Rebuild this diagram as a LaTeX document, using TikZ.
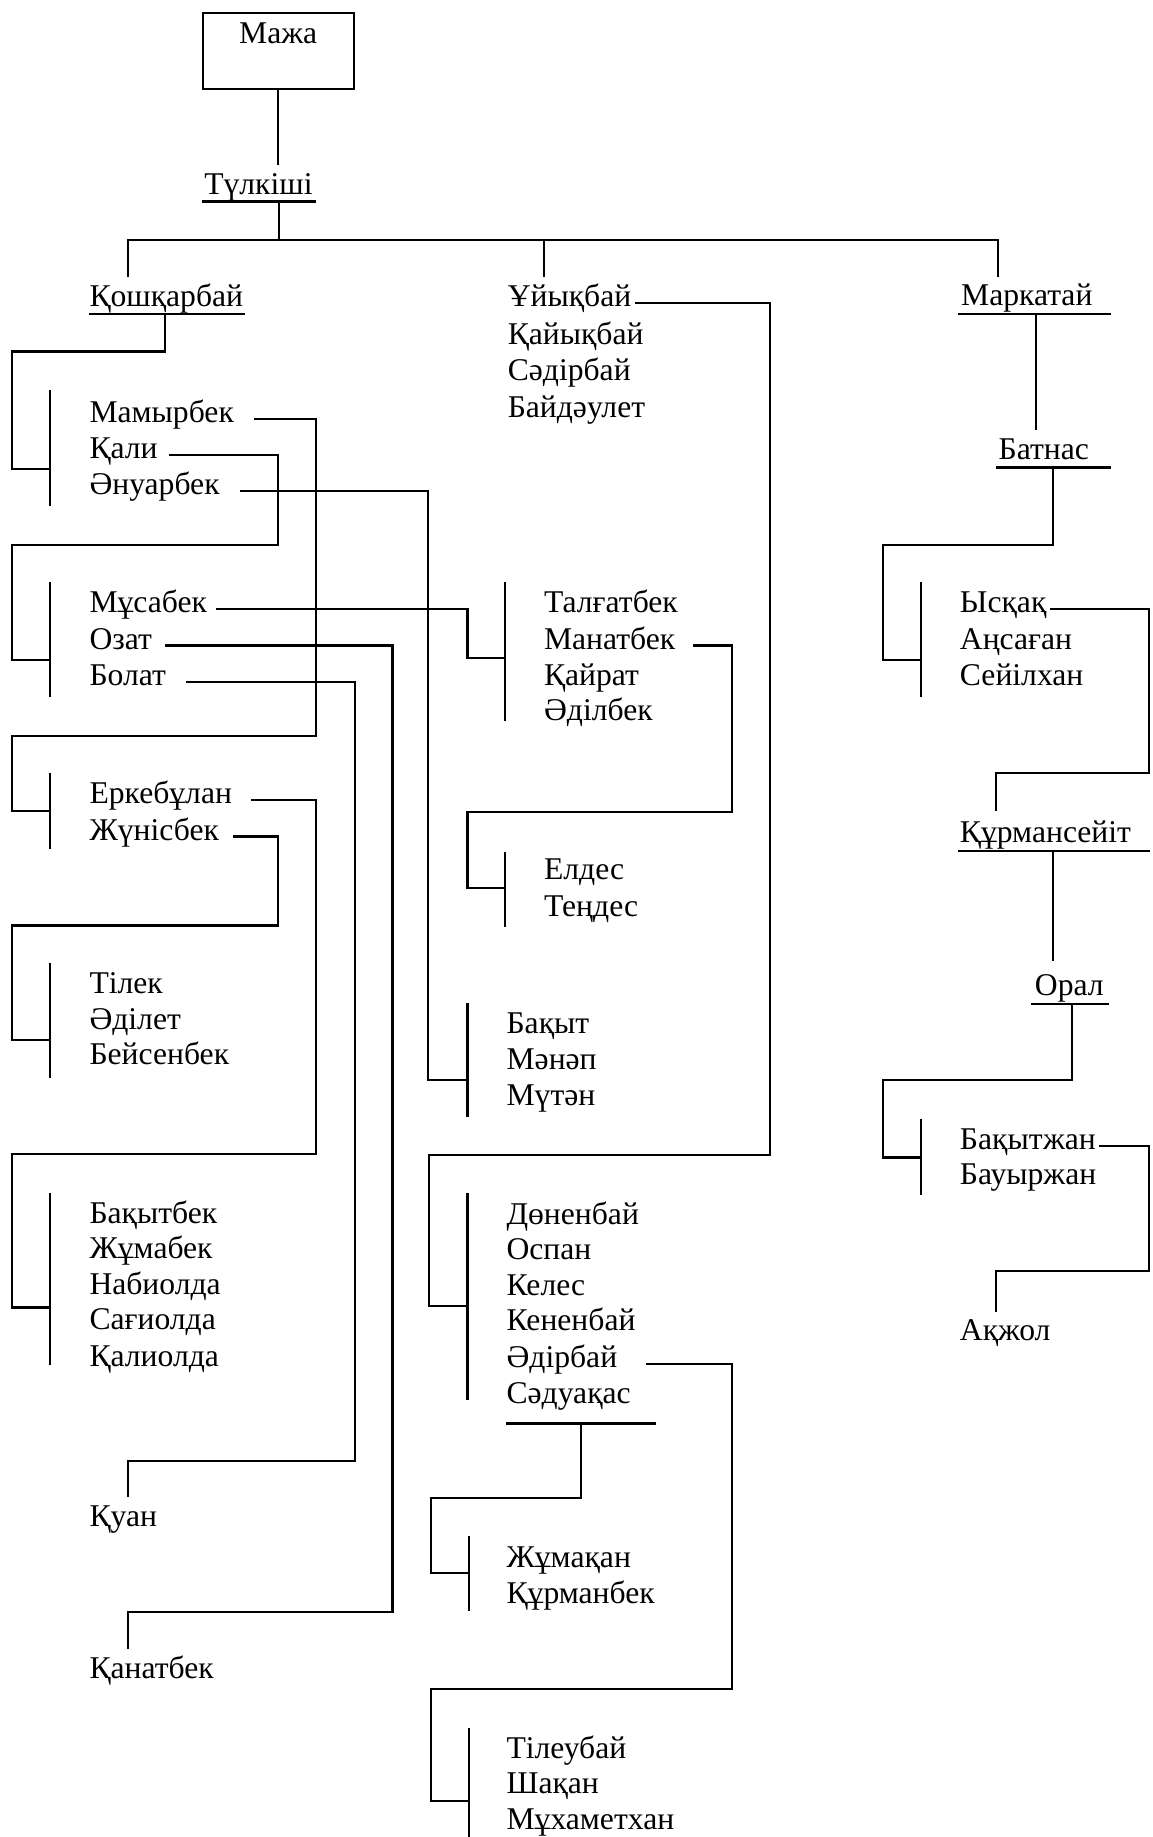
\documentclass[tikz,border=0pt]{standalone}
\usepackage{fontspec}
\setmainfont{Liberation Serif}
\usepackage{tikz}

\begin{document}
\begin{tikzpicture}[
  x=0.5pt, y=-0.5pt,
  kin/.style={anchor=base west, inner sep=0pt, font=\fontsize{13.5pt}{15pt}\selectfont},
  box/.style={draw, line width=1pt, minimum width=64.5pt, inner xsep=0pt, inner ysep=4pt, text height=9pt, text depth=15.5pt, font=\fontsize{13.5pt}{15pt}\selectfont},
  ln/.style={line width=0.9pt},
  ul/.style={line width=0.9pt}
]
  \useasboundingbox (0,0) rectangle (984,1568);

  \node[box, anchor=north] (maja) at (237.5,10) {Мажа};
  \node[kin] (tulk) at (174,166) {Түлкіші};

  \node[kin] (kosh) at (76,262) {Қошқарбай};
  \node[kin] (uiyk) at (433,262) {Ұйықбай};
  \node[kin] (kaiyk) at (433,294) {Қайықбай};
  \node[kin] (sadir) at (433,325) {Сәдірбай};
  \node[kin] (baid) at (433,356) {Байдәулет};
  \node[kin] (mark) at (820,261) {Маркатай};
  \node[kin] (batnas) at (852,392) {Батнас};

  \node[kin] (mamyr) at (76,361) {Мамырбек};
  \node[kin] (kali) at (76,391) {Қали};
  \node[kin] (anuar) at (76,422) {Әнуарбек};
  \node[kin] (musa) at (76,523) {Мұсабек};
  \node[kin] (ozat) at (76,554) {Озат};
  \node[kin] (bolat) at (76,585) {Болат};
  \node[kin] (erke) at (76,686) {Еркебұлан};
  \node[kin] (zhunis) at (76,717) {Жүнісбек};
  \node[kin] (tilek) at (76,848) {Тілек};
  \node[kin] (adilet) at (76,879) {Әділет};
  \node[kin] (beisen) at (76,909) {Бейсенбек};
  \node[kin] (bakbek) at (76,1044) {Бақытбек};
  \node[kin] (zhumabek) at (76,1074) {Жұмабек};
  \node[kin] (nabi) at (76,1105) {Набиолда};
  \node[kin] (sagi) at (76,1135) {Сағиолда};
  \node[kin] (kalio) at (76,1166) {Қалиолда};
  \node[kin] (kuan) at (76,1303) {Қуан};
  \node[kin] (kanat) at (76,1433) {Қанатбек};

  \node[kin] (talgat) at (464,523) {Талғатбек};
  \node[kin] (manat) at (464,554) {Манатбек};
  \node[kin] (kairat) at (464,585) {Қайрат};
  \node[kin] (adilbek) at (464,615) {Әділбек};
  \node[kin] (eldes) at (464,751) {Елдес};
  \node[kin] (tendes) at (464,782) {Теңдес};
  \node[kin] (bakyt) at (432,882) {Бақыт};
  \node[kin] (manap) at (432,913) {Мәнәп};
  \node[kin] (muten) at (432,944) {Мүтән};
  \node[kin] (donen) at (432,1045) {Дөненбай};
  \node[kin] (ospan) at (432,1075) {Оспан};
  \node[kin] (keles) at (432,1106) {Келес};
  \node[kin] (kenen) at (432,1136) {Кененбай};
  \node[kin] (adir) at (432,1167) {Әдірбай};
  \node[kin] (saduak) at (432,1198) {Сәдуақас};
  \node[kin] (zhumak) at (432,1338) {Жұмақан};
  \node[kin] (kurmbek) at (432,1369) {Құрманбек};
  \node[kin] (tileu) at (432,1501) {Тілеубай};
  \node[kin] (shakan) at (432,1531) {Шақан};
  \node[kin] (mukh) at (432,1562) {Мұхаметхан};

  \node[kin] (iskak) at (819,523) {Ысқақ};
  \node[kin] (ansagan) at (819,554) {Аңсаған};
  \node[kin] (seilkhan) at (819,585) {Сейілхан};
  \node[kin] (kurmseit) at (819,719) {Құрмансейіт};
  \node[kin] (oral) at (883,850) {Орал};
  \node[kin] (bakzh) at (819,981) {Бақытжан};
  \node[kin] (bauyr) at (819,1011) {Бауыржан};
  \node[kin] (akzhol) at (819,1144) {Ақжол};

  \coordinate (fork) at (238,205);
  \coordinate (j1) at (43,400);
  \coordinate (j2) at (43,563);
  \coordinate (j3) at (43,692);
  \coordinate (j4) at (43,888);
  \coordinate (j5) at (43,1116);
  \coordinate (j6) at (431,562);
  \coordinate (j7) at (431,758);
  \coordinate (j8) at (399,922);
  \coordinate (j9) at (399,1115);
  \coordinate (j10) at (400,1343);
  \coordinate (j11) at (400,1537);
  \coordinate (j12) at (786,563);
  \coordinate (j13) at (786,988);

  \draw[ln] (43,333) -- (43,432);
  \draw[ln] (43,497) -- (43,595);
  \draw[ln] (43,660) -- (43,725);
  \draw[ln] (43,822) -- (43,920);
  \draw[ln] (43,1018) -- (43,1165);
  \draw[ln] (431,497) -- (431,615);
  \draw[ln] (431,727) -- (431,791);
  \draw[ln] (399,856) -- (399,953);
  \draw[ln] (399,1018) -- (399,1195);
  \draw[ln] (400,1311) -- (400,1375);
  \draw[ln] (400,1475) -- (400,1568);
  \draw[ln] (786,497) -- (786,595);
  \draw[ln] (786,955) -- (786,1020);

  \draw[ln] (maja.south) -- ([yshift=3.5pt]maja.south |- tulk.north);
  \draw[ul] ([shift={(-1pt,-3pt)}]tulk.base west) coordinate (tulk-ul) -- ++(49pt,0pt);
  \draw[ln] ([xshift=33pt]tulk-ul) -- (fork);
  \draw[ln] ([shift={(16.5pt,3pt)}]kosh.north west) |- (fork) -| ([shift={(16pt,3pt)}]mark.north west);
  \draw[ln] ([shift={(15.5pt,3pt)}]uiyk.north west) coordinate (u-top) -- (u-top |- fork);

  \draw[ul] ([yshift=-3pt]kosh.base west) coordinate (kosh-ul) -- ++(66.5pt,0pt);
  \draw[ln] ([xshift=32.5pt]kosh-ul) |- (10,300) |- (j1);

  \draw[ln] ([shift={(8.5pt,1.5pt)}]mamyr.base east) -| (270,628) -- (10,628) |- (j3);
  \draw[ln] ([shift={(4.5pt,1.5pt)}]kali.base east) -| (237,465) -- (10,465) |- (j2);
  \draw[ln] ([shift={(8.5pt,1.5pt)}]anuar.base east) -| (365,922) -- (j8);
  \draw[ln] ([shift={(3.5pt,1.5pt)}]musa.base east) -| (399,562) -- (j6);
  \draw[ln] ([shift={(5.5pt,1.5pt)}]ozat.base east) -| (335,1376) -| ([shift={(16.5pt,3pt)}]kanat.north west);
  \draw[ln] ([shift={(8.5pt,1.5pt)}]bolat.base east) -| (303,1247) -| ([shift={(16.5pt,3.5pt)}]kuan.north west);
  \draw[ln] ([shift={(8pt,1.5pt)}]erke.base east) -| (270,985) -- (10,985) |- (j5);
  \draw[ln] ([shift={(6pt,1.5pt)}]zhunis.base east) -| (237,790) -- (10,790) |- (j4);

  \draw[ln] ([shift={(1.5pt,1.5pt)}]uiyk.base east) -| (657,986) -- (366,986) |- (j9);
  \draw[ln] ([shift={(7.5pt,1.5pt)}]manat.base east) -| (625,693) -- (399,693) |- (j7);
  \draw[ln] ([shift={(12pt,1.5pt)}]adir.base east) -| (625,1442) -- (368,1442) |- (j11);
  \draw[ul] ([yshift=-8.5pt]saduak.base west) coordinate (saduak-ul) -- ++(64pt,0pt);
  \draw[ln] ([xshift=32pt]saduak-ul) |- (368,1279) |- (j10);

  \draw[ul] ([shift={(-1pt,-3.5pt)}]mark.base west) coordinate (mark-ul) -- ++(65pt,0pt);
  \draw[ln] ([xshift=33pt]mark-ul) -- ++(0pt,-49.5pt);
  \draw[ul] ([shift={(-1pt,-3.5pt)}]batnas.base west) coordinate (batnas-ul) -- ++(49pt,0pt);
  \draw[ln] ([xshift=24.5pt]batnas-ul) |- (754,465) |- (j12);
  \draw[ln] ([shift={(1.5pt,1.5pt)}]iskak.base east) -| (981,660) -| ([shift={(15.5pt,4pt)}]kurmseit.north west);
  \draw[ul] ([shift={(-0.5pt,-3.5pt)}]kurmseit.base west) coordinate (kurm-ul) -- ++(82pt,0pt);
  \draw[ln] ([xshift=40.5pt]kurm-ul) -- ++(0pt,-47pt);
  \draw[ul] ([shift={(-1.5pt,-3.5pt)}]oral.base west) coordinate (oral-ul) -- ++(33.5pt,0pt);
  \draw[ln] ([xshift=17.5pt]oral-ul) |- (754,922) |- (j13);
  \draw[ln] ([shift={(1pt,1.5pt)}]bakzh.base east) -| (981,1085) -| ([shift={(15.5pt,3pt)}]akzhol.north west);
\end{tikzpicture}
\end{document}
